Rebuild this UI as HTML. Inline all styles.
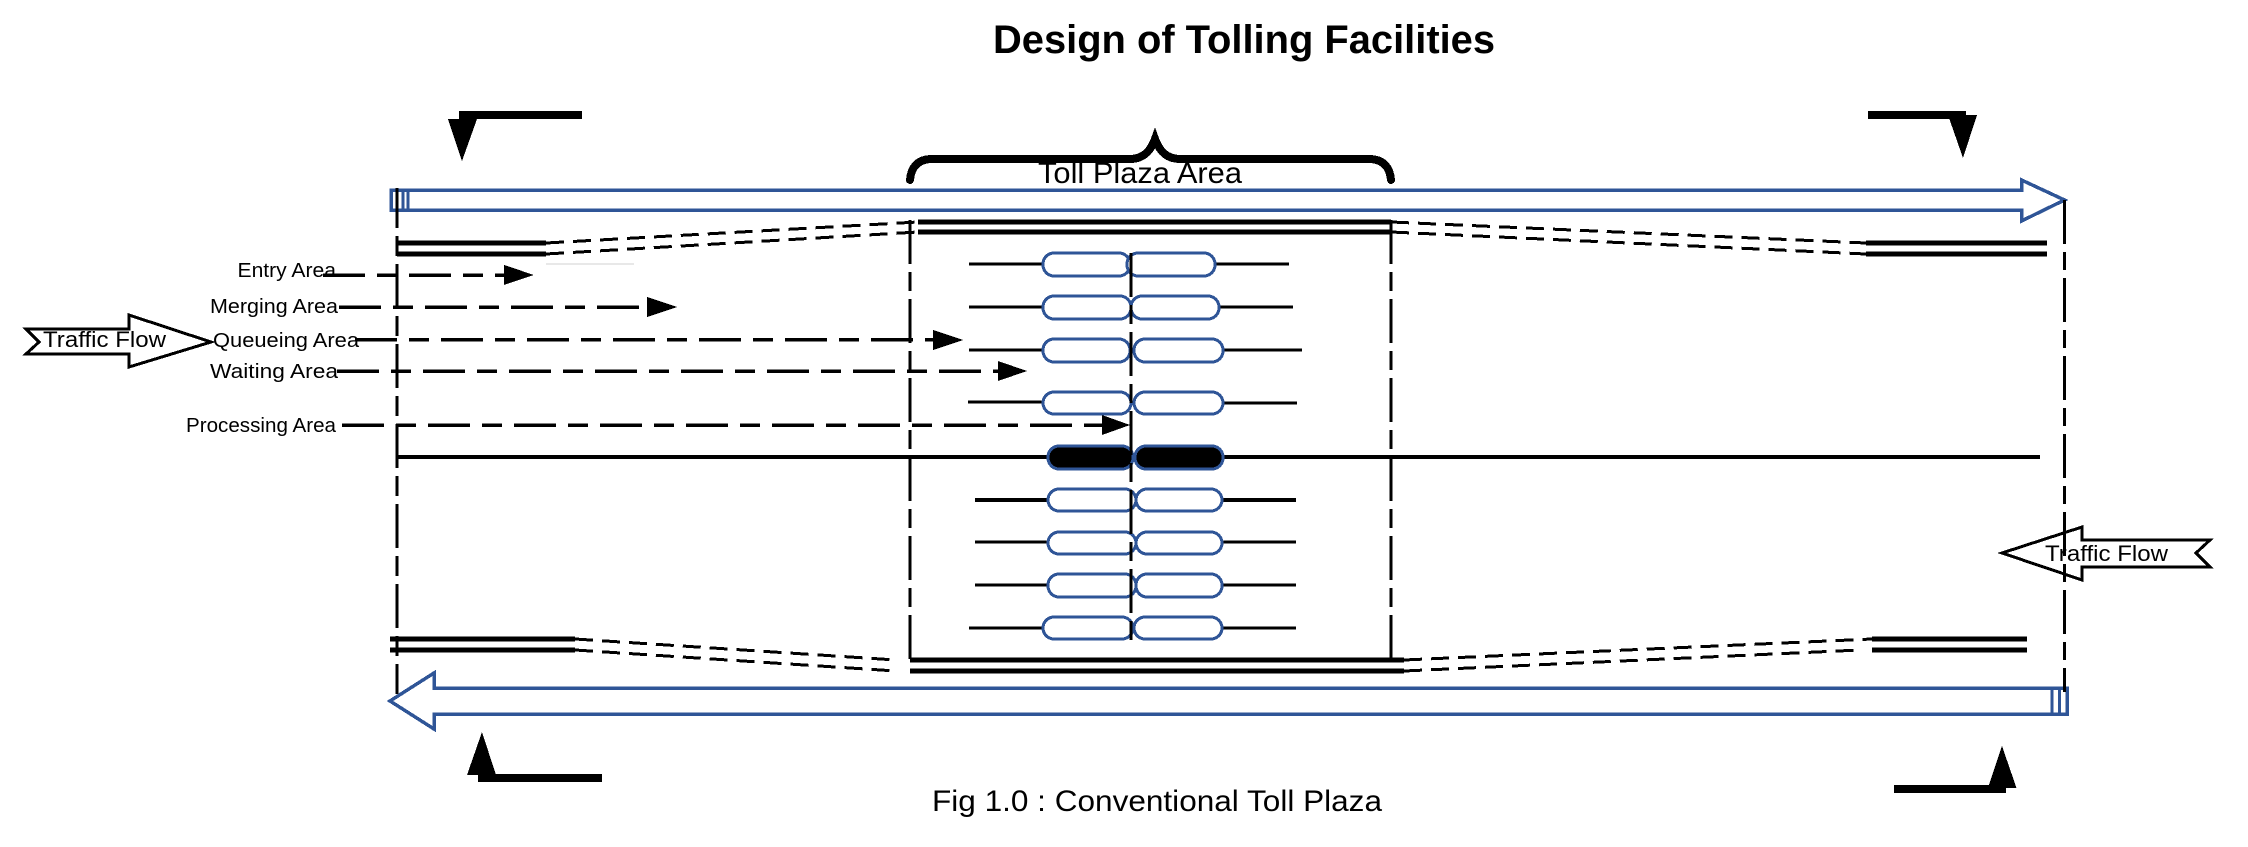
<!DOCTYPE html>
<html>
<head>
<meta charset="utf-8">
<title>Design of Tolling Facilities</title>
<style>
html,body{margin:0;padding:0;background:#fff;width:2248px;height:847px;overflow:hidden}
svg{display:block;shape-rendering:crispEdges}
text{font-family:"Liberation Sans",sans-serif;fill:#000}
.dd{stroke:#000;stroke-width:3;fill:none;stroke-dasharray:44 8 19 8}
.tr{stroke:#000;stroke-width:3;fill:none;stroke-dasharray:18 9}
.ar{stroke:#000;stroke-width:3.5;fill:none;stroke-dasharray:42 12 20 12}
.bl{stroke:#2f5597;stroke-width:3.5;fill:#fff}
.cap{stroke:#2f5597;stroke-width:3;fill:#fff}
.capk{stroke:#2f5597;stroke-width:3;fill:#000}
.ln{stroke:#000;stroke-width:3}
.bar{stroke:#000;stroke-width:5}
.lab{font-size:20px}
</style>
</head>
<body>
<svg width="2248" height="847" viewBox="0 0 2248 847" xmlns="http://www.w3.org/2000/svg">
<rect width="2248" height="847" fill="#fff"/>

<text x="993" y="53" font-size="39.6" font-weight="bold" textLength="502" lengthAdjust="spacingAndGlyphs">Design of Tolling Facilities</text>

<!-- corner section markers -->
<rect x="459" y="111" width="123" height="8" fill="#000"/>
<polygon points="448,119 477,119 462,161" fill="#000"/>
<rect x="1868" y="111" width="98" height="8" fill="#000"/>
<polygon points="1948,115 1977,115 1963,158" fill="#000"/>
<rect x="478" y="774" width="124" height="8" fill="#000"/>
<polygon points="467,775 496,775 482,732" fill="#000"/>
<rect x="1894" y="785" width="112" height="8" fill="#000"/>
<polygon points="1988,788 2016.5,788 2002,746" fill="#000"/>

<!-- Toll plaza label and brace -->
<text x="1038" y="183" font-size="30" textLength="204" lengthAdjust="spacingAndGlyphs">Toll Plaza Area</text>
<path d="M910,180 C911,168 917,159 932,159 L1130,159 C1144,159 1151,150 1155,139 C1159,150 1166,159 1180,159 L1369,159 C1384,159 1390,168 1391,180" fill="none" stroke="#000" stroke-width="8" stroke-linecap="round"/>

<!-- blue direction arrows -->
<polygon class="bl" points="391,190 2021.5,190 2021.5,180 2064.5,200 2021.5,221 2021.5,210 391,210"/>
<line x1="403" y1="190" x2="403" y2="210" stroke="#2f5597" stroke-width="3"/>
<line x1="408" y1="190" x2="408" y2="210" stroke="#2f5597" stroke-width="3"/>
<polygon class="bl" points="390,701 434,673 434,688 2067,688 2067,714 434,714 434,729"/>
<line x1="2052" y1="688" x2="2052" y2="714" stroke="#2f5597" stroke-width="3"/>
<line x1="2059.5" y1="688" x2="2059.5" y2="714" stroke="#2f5597" stroke-width="3"/>

<!-- Traffic flow arrows -->
<polygon points="26,329 129,329 129,315 211,342 129,367 129,354 26,354 39,342" fill="#fff" stroke="#000" stroke-width="3"/>
<polygon points="2002,553 2082,527 2082,540 2210,540 2196,553 2210,567 2082,567 2082,580" fill="#fff" stroke="#000" stroke-width="3"/>
<text x="43" y="347" font-size="22.5" textLength="123" lengthAdjust="spacingAndGlyphs">Traffic Flow</text>
<text x="2045" y="561" font-size="22.5" textLength="123" lengthAdjust="spacingAndGlyphs">Traffic Flow</text>

<!-- vertical dash-dot boundaries -->
<line class="dd" x1="397" y1="188" x2="397" y2="694" style="stroke-dasharray:44 8 20 8;stroke-dashoffset:4"/>
<line class="dd" x1="2064.5" y1="200" x2="2064.5" y2="692" style="stroke-dasharray:44 8 18 8"/>
<line class="dd" x1="910" y1="220" x2="910" y2="660"/>
<line class="dd" x1="1391" y1="220" x2="1391" y2="660"/>

<!-- road edges -->
<line class="bar" x1="397" y1="243" x2="546" y2="243"/>
<line class="bar" x1="397" y1="254" x2="546" y2="254"/>
<line class="bar" x1="1866" y1="243" x2="2047" y2="243"/>
<line class="bar" x1="1866" y1="254" x2="2047" y2="254"/>
<line class="bar" x1="918" y1="222" x2="1391" y2="222"/>
<line class="bar" x1="918" y1="232" x2="1391" y2="232"/>
<line class="bar" x1="910" y1="660" x2="1404" y2="660"/>
<line class="bar" x1="910" y1="671" x2="1404" y2="671"/>
<line class="bar" x1="390" y1="639" x2="575" y2="639"/>
<line class="bar" x1="390" y1="650" x2="575" y2="650"/>
<line class="bar" x1="1872" y1="639" x2="2027" y2="639"/>
<line class="bar" x1="1872" y1="650" x2="2027" y2="650"/>

<line class="tr" x1="546" y1="243" x2="918" y2="222"/>
<line class="tr" x1="546" y1="254" x2="918" y2="232"/>
<line class="tr" x1="1391" y1="222" x2="1866" y2="243"/>
<line class="tr" x1="1391" y1="232" x2="1866" y2="254"/>
<line class="tr" x1="575" y1="639" x2="896" y2="660"/>
<line class="tr" x1="575" y1="650" x2="896" y2="671"/>
<line class="tr" x1="1404" y1="660" x2="1872" y2="639"/>
<line class="tr" x1="1404" y1="671" x2="1860" y2="650"/>

<line x1="546" y1="264" x2="634" y2="264" stroke="#d0d0d0" stroke-width="1"/>

<!-- lane lines -->
<line class="ln" x1="969" y1="264" x2="1289" y2="264"/>
<line class="ln" x1="969" y1="307" x2="1293" y2="307"/>
<line class="ln" x1="969" y1="350" x2="1302" y2="350"/>
<line class="ln" x1="968" y1="402" x2="1100" y2="402"/>
<line class="ln" x1="1150" y1="403" x2="1297" y2="403"/>
<line x1="397" y1="457" x2="2040" y2="457" stroke="#000" stroke-width="3.6"/>
<line class="ln" x1="975" y1="500" x2="1296" y2="500" style="stroke-width:3.6"/>
<line class="ln" x1="975" y1="542" x2="1296" y2="542"/>
<line class="ln" x1="975" y1="585" x2="1296" y2="585"/>
<line class="ln" x1="969" y1="628" x2="1296" y2="628"/>

<!-- booths -->
<rect class="cap" x="1043" y="253" width="87" height="23" rx="11"/>
<rect class="cap" x="1127" y="253" width="88" height="23" rx="11"/>
<rect class="cap" x="1043" y="296" width="88" height="23" rx="11"/>
<rect class="cap" x="1131" y="296" width="88" height="23" rx="11"/>
<rect class="cap" x="1043" y="339" width="87" height="23" rx="11"/>
<rect class="cap" x="1134" y="339" width="89" height="23" rx="11"/>
<rect class="cap" x="1043" y="392" width="88" height="22" rx="11"/>
<rect class="cap" x="1134" y="392" width="89" height="22" rx="11"/>
<rect class="capk" x="1048" y="446" width="85" height="23" rx="11"/>
<rect class="capk" x="1135" y="446" width="88" height="23" rx="11"/>
<rect class="cap" x="1048" y="489" width="88" height="22" rx="11"/>
<rect class="cap" x="1136" y="489" width="86" height="22" rx="11"/>
<rect class="cap" x="1048" y="532" width="88" height="22" rx="11"/>
<rect class="cap" x="1136" y="532" width="86" height="22" rx="11"/>
<rect class="cap" x="1048" y="574" width="88" height="23" rx="11"/>
<rect class="cap" x="1136" y="574" width="86" height="23" rx="11"/>
<rect class="cap" x="1043" y="617" width="90" height="22" rx="11"/>
<rect class="cap" x="1134" y="617" width="88" height="22" rx="11"/>

<!-- centre line -->
<line class="dd" x1="1131" y1="253" x2="1131" y2="640"/>

<!-- area labels and pointers -->
<text class="lab" x="237.5" y="277" textLength="98.5" lengthAdjust="spacingAndGlyphs">Entry Area</text>
<text class="lab" x="210" y="313" textLength="128" lengthAdjust="spacingAndGlyphs">Merging Area</text>
<text class="lab" x="213" y="347" textLength="146" lengthAdjust="spacingAndGlyphs">Queueing  Area</text>
<text class="lab" x="210" y="378" textLength="128" lengthAdjust="spacingAndGlyphs">Waiting  Area</text>
<text class="lab" x="186" y="432" textLength="150" lengthAdjust="spacingAndGlyphs">Processing Area</text>

<line class="ar" x1="323" y1="275" x2="506" y2="275"/>
<polygon points="504,265 534,275 504,285" fill="#000"/>
<line class="ar" x1="339" y1="307" x2="649" y2="307"/>
<polygon points="647,297 677,307 647,317" fill="#000"/>
<line class="ar" x1="355" y1="339.5" x2="935" y2="339.5"/>
<polygon points="933,330 963,340 933,350" fill="#000"/>
<line class="ar" x1="337" y1="371" x2="1000" y2="371"/>
<polygon points="998,361 1027,371 998,381" fill="#000"/>
<line class="ar" x1="342" y1="425" x2="1104" y2="425"/>
<polygon points="1102,415 1130,425 1102,435" fill="#000"/>

<text x="932" y="811" font-size="30" textLength="450" lengthAdjust="spacingAndGlyphs">Fig 1.0 : Conventional Toll Plaza</text>
</svg>
</body>
</html>
